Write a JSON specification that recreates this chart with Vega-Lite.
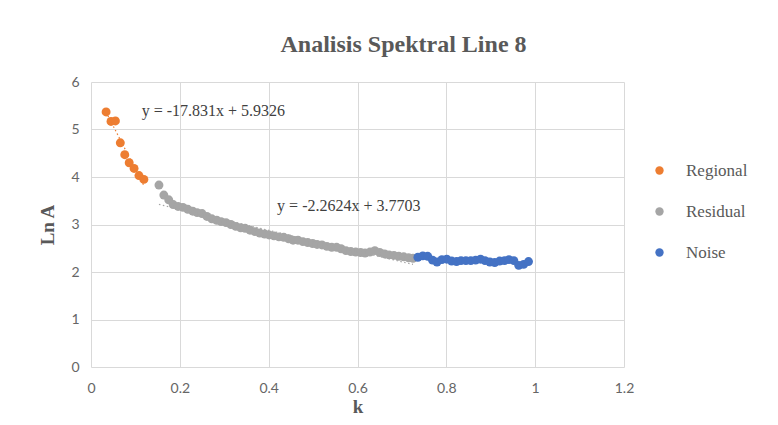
{
  "$schema": "https://vega.github.io/schema/vega-lite/v6.json",
  "autosize": "none",
  "width": 533,
  "height": 285,
  "padding": {"left": 91, "top": 82, "right": 154, "bottom": 58},
  "background": "white",
  "title": {
    "text": "Analisis Spektral Line 8",
    "font": "Liberation Serif",
    "fontSize": 24,
    "fontWeight": "bold",
    "color": "#595959",
    "anchor": "middle",
    "dx": 46,
    "offset": 18
  },
  "config": {
    "view": {"stroke": null},
    "axis": {
      "gridColor": "#d9d9d9",
      "gridWidth": 1,
      "domain": false,
      "ticks": false,
      "labelFont": "Lato",
      "labelFontSize": 14,
      "labelColor": "#666666",
      "labelFlush": false,
      "titleFont": "Liberation Serif",
      "titleFontWeight": "bold",
      "titleColor": "#595959"
    }
  },
  "datasets": {
    "pts": [
      {"k": 0.034, "lnA": 5.37, "group": "Regional"},
      {"k": 0.045, "lnA": 5.17, "group": "Regional"},
      {"k": 0.055, "lnA": 5.18, "group": "Regional"},
      {"k": 0.066, "lnA": 4.72, "group": "Regional"},
      {"k": 0.076, "lnA": 4.47, "group": "Regional"},
      {"k": 0.086, "lnA": 4.30, "group": "Regional"},
      {"k": 0.097, "lnA": 4.18, "group": "Regional"},
      {"k": 0.108, "lnA": 4.03, "group": "Regional"},
      {"k": 0.119, "lnA": 3.95, "group": "Regional"},
      {"k": 0.153, "lnA": 3.83, "group": "Residual"},
      {"k": 0.164, "lnA": 3.62, "group": "Residual"},
      {"k": 0.175, "lnA": 3.52, "group": "Residual"},
      {"k": 0.185, "lnA": 3.42, "group": "Residual"},
      {"k": 0.196, "lnA": 3.38, "group": "Residual"},
      {"k": 0.207, "lnA": 3.36, "group": "Residual"},
      {"k": 0.218, "lnA": 3.32, "group": "Residual"},
      {"k": 0.229, "lnA": 3.28, "group": "Residual"},
      {"k": 0.239, "lnA": 3.25, "group": "Residual"},
      {"k": 0.250, "lnA": 3.23, "group": "Residual"},
      {"k": 0.261, "lnA": 3.17, "group": "Residual"},
      {"k": 0.272, "lnA": 3.12, "group": "Residual"},
      {"k": 0.283, "lnA": 3.09, "group": "Residual"},
      {"k": 0.293, "lnA": 3.06, "group": "Residual"},
      {"k": 0.304, "lnA": 3.04, "group": "Residual"},
      {"k": 0.315, "lnA": 3.00, "group": "Residual"},
      {"k": 0.326, "lnA": 2.96, "group": "Residual"},
      {"k": 0.337, "lnA": 2.93, "group": "Residual"},
      {"k": 0.347, "lnA": 2.92, "group": "Residual"},
      {"k": 0.358, "lnA": 2.88, "group": "Residual"},
      {"k": 0.369, "lnA": 2.85, "group": "Residual"},
      {"k": 0.380, "lnA": 2.82, "group": "Residual"},
      {"k": 0.391, "lnA": 2.80, "group": "Residual"},
      {"k": 0.401, "lnA": 2.78, "group": "Residual"},
      {"k": 0.412, "lnA": 2.76, "group": "Residual"},
      {"k": 0.423, "lnA": 2.74, "group": "Residual"},
      {"k": 0.434, "lnA": 2.73, "group": "Residual"},
      {"k": 0.445, "lnA": 2.70, "group": "Residual"},
      {"k": 0.455, "lnA": 2.67, "group": "Residual"},
      {"k": 0.466, "lnA": 2.67, "group": "Residual"},
      {"k": 0.477, "lnA": 2.64, "group": "Residual"},
      {"k": 0.488, "lnA": 2.62, "group": "Residual"},
      {"k": 0.499, "lnA": 2.60, "group": "Residual"},
      {"k": 0.509, "lnA": 2.58, "group": "Residual"},
      {"k": 0.520, "lnA": 2.57, "group": "Residual"},
      {"k": 0.531, "lnA": 2.54, "group": "Residual"},
      {"k": 0.542, "lnA": 2.52, "group": "Residual"},
      {"k": 0.553, "lnA": 2.52, "group": "Residual"},
      {"k": 0.563, "lnA": 2.49, "group": "Residual"},
      {"k": 0.574, "lnA": 2.45, "group": "Residual"},
      {"k": 0.585, "lnA": 2.43, "group": "Residual"},
      {"k": 0.596, "lnA": 2.42, "group": "Residual"},
      {"k": 0.607, "lnA": 2.41, "group": "Residual"},
      {"k": 0.617, "lnA": 2.40, "group": "Residual"},
      {"k": 0.628, "lnA": 2.42, "group": "Residual"},
      {"k": 0.639, "lnA": 2.45, "group": "Residual"},
      {"k": 0.650, "lnA": 2.41, "group": "Residual"},
      {"k": 0.661, "lnA": 2.38, "group": "Residual"},
      {"k": 0.671, "lnA": 2.36, "group": "Residual"},
      {"k": 0.682, "lnA": 2.35, "group": "Residual"},
      {"k": 0.693, "lnA": 2.33, "group": "Residual"},
      {"k": 0.704, "lnA": 2.32, "group": "Residual"},
      {"k": 0.715, "lnA": 2.30, "group": "Residual"},
      {"k": 0.725, "lnA": 2.29, "group": "Residual"},
      {"k": 0.736, "lnA": 2.31, "group": "Noise"},
      {"k": 0.747, "lnA": 2.34, "group": "Noise"},
      {"k": 0.758, "lnA": 2.33, "group": "Noise"},
      {"k": 0.769, "lnA": 2.25, "group": "Noise"},
      {"k": 0.779, "lnA": 2.21, "group": "Noise"},
      {"k": 0.790, "lnA": 2.26, "group": "Noise"},
      {"k": 0.801, "lnA": 2.27, "group": "Noise"},
      {"k": 0.812, "lnA": 2.23, "group": "Noise"},
      {"k": 0.823, "lnA": 2.22, "group": "Noise"},
      {"k": 0.833, "lnA": 2.24, "group": "Noise"},
      {"k": 0.844, "lnA": 2.24, "group": "Noise"},
      {"k": 0.855, "lnA": 2.24, "group": "Noise"},
      {"k": 0.866, "lnA": 2.25, "group": "Noise"},
      {"k": 0.877, "lnA": 2.27, "group": "Noise"},
      {"k": 0.887, "lnA": 2.24, "group": "Noise"},
      {"k": 0.898, "lnA": 2.21, "group": "Noise"},
      {"k": 0.909, "lnA": 2.20, "group": "Noise"},
      {"k": 0.920, "lnA": 2.23, "group": "Noise"},
      {"k": 0.931, "lnA": 2.24, "group": "Noise"},
      {"k": 0.941, "lnA": 2.26, "group": "Noise"},
      {"k": 0.952, "lnA": 2.24, "group": "Noise"},
      {"k": 0.963, "lnA": 2.14, "group": "Noise"},
      {"k": 0.974, "lnA": 2.16, "group": "Noise"},
      {"k": 0.985, "lnA": 2.22, "group": "Noise"}
    ],
    "labels": [
      {"k": 0.114, "lnA": 5.38, "text": "y = -17.831x + 5.9326"},
      {"k": 0.419, "lnA": 3.39, "text": "y = -2.2624x + 3.7703"}
    ]
  },
  "layer": [
    {
      "data": {"name": "pts"},
      "mark": {"type": "point", "filled": true, "opacity": 1, "size": 80},
      "encoding": {
        "x": {"field": "k", "type": "quantitative", "scale": {"domain": [0, 1.2]}, "axis": {"values": [0, 0.2, 0.4, 0.6, 0.8, 1, 1.2], "format": "~g", "title": "k", "titleFontSize": 19, "labelPadding": 14, "titlePadding": 2}},
        "y": {"field": "lnA", "type": "quantitative", "scale": {"domain": [0, 6]}, "axis": {"values": [0, 1, 2, 3, 4, 5, 6], "title": "Ln A", "titleFontSize": 19, "labelPadding": 12, "titlePadding": 13}},
        "color": {
          "field": "group",
          "type": "nominal",
          "scale": {"domain": ["Regional", "Residual", "Noise"], "range": ["#ED7D31", "#A5A5A5", "#4472C4"]},
          "legend": {
            "title": null,
            "orient": "none",
            "legendX": 560,
            "legendY": 80,
            "symbolType": "circle",
            "symbolSize": 70,
            "labelFont": "Liberation Serif",
            "labelFontSize": 17,
            "labelColor": "#595959",
            "labelOffset": 18,
            "rowPadding": 23,
            "encoding": {
              "labels": {
                "update": {
                  "fontStyle": [{"test": "datum.value === 'Noise' || datum.label === 'Noise'", "value": "italic"}, {"value": "normal"}]
                }
              }
            }
          }
        }
      }
    },
    {
      "data": {"name": "pts"},
      "transform": [
        {"filter": "datum.group === 'Regional'"},
        {"regression": "lnA", "on": "k", "method": "linear"}
      ],
      "mark": {"type": "line", "strokeDash": [1.5, 2.5], "strokeWidth": 1.2, "color": "#ED7D31"},
      "encoding": {
        "x": {"field": "k", "type": "quantitative"},
        "y": {"field": "lnA", "type": "quantitative"}
      }
    },
    {
      "data": {"name": "pts"},
      "transform": [
        {"filter": "datum.group === 'Residual'"},
        {"regression": "lnA", "on": "k", "method": "linear"}
      ],
      "mark": {"type": "line", "strokeDash": [1.5, 2.5], "strokeWidth": 1.2, "color": "#A5A5A5"},
      "encoding": {
        "x": {"field": "k", "type": "quantitative"},
        "y": {"field": "lnA", "type": "quantitative"}
      }
    },
    {
      "data": {"name": "labels"},
      "mark": {"type": "text", "align": "left", "baseline": "middle", "font": "Liberation Serif", "fontSize": 16, "color": "#404040"},
      "encoding": {
        "x": {"field": "k", "type": "quantitative"},
        "y": {"field": "lnA", "type": "quantitative"},
        "text": {"field": "text"}
      }
    }
  ]
}
